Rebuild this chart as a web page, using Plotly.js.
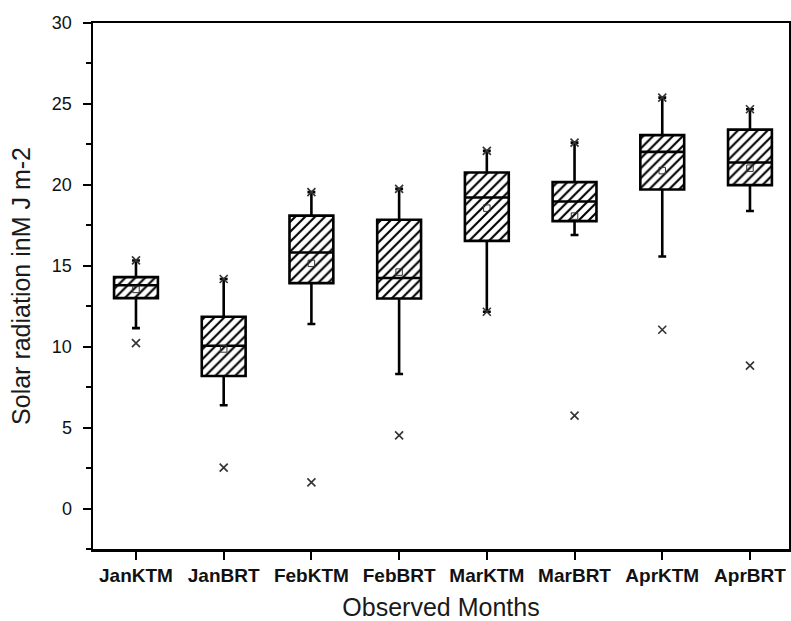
<!DOCTYPE html>
<html>
<head>
<meta charset="utf-8">
<script src="https://cdn.plot.ly/plotly-3.0.1.min.js"></script>
<style>html,body{margin:0;padding:0;background:#fff;}#chart{width:791px;height:621px;}</style>
</head>
<body>
<div id="chart"></div>
<script>
var categories = ["JanKTM","JanBRT","FebKTM","FebBRT","MarKTM","MarBRT","AprKTM","AprBRT"];
var q1Vals      = [13.0, 8.19, 13.93, 12.98, 16.54, 17.76, 19.71, 19.98];
var medianVals  = [13.8, 10.06, 15.82, 14.24, 19.22, 18.97, 22.04, 21.38];
var q3Vals      = [14.3, 11.85, 18.1, 17.84, 20.76, 20.17, 23.07, 23.41];
var lowWhisker  = [11.15, 6.38, 11.4, 8.31, 12.16, 16.9, 15.57, 18.38];
var highWhisker = [15.33, 14.18, 19.55, 19.75, 22.1, 22.61, 25.39, 24.67];
var meanVals    = [13.54, 9.86, 15.15, 14.61, 18.56, 18.07, 20.88, 21.03];
var minVals     = [10.22, 2.53, 1.62, 4.52, 12.16, 5.74, 11.05, 8.83];
var maxVals     = [15.33, 14.18, 19.55, 19.75, 22.1, 22.61, 25.39, 24.67];
var yTicks      = [0, 5, 10, 15, 20, 25, 30];

var boxHeights = q3Vals.map(function(v, i){ return v - q1Vals[i]; });

var hatch = {
  type: "bar", x: categories, y: boxHeights, base: q1Vals, width: 0.5,
  marker: {color: "#ffffff", line: {width: 0},
           pattern: {shape: "/", fgcolor: "#000000", bgcolor: "#ffffff", size: 7, solidity: 0.3}},
  hoverinfo: "skip", showlegend: false
};
var boxes = {
  type: "box", x: categories, q1: q1Vals, median: medianVals, q3: q3Vals,
  lowerfence: lowWhisker, upperfence: highWhisker,
  width: 0.5, whiskerwidth: 0.18, boxpoints: false,
  fillcolor: "rgba(0,0,0,0)", line: {color: "#000000", width: 2.6},
  showlegend: false
};
var means = {
  type: "scatter", mode: "markers", x: categories, y: meanVals,
  marker: {symbol: "square-open", size: 6.5, color: "#333333", line: {width: 1}},
  showlegend: false
};
var mins = {
  type: "scatter", mode: "markers", x: categories, y: minVals,
  marker: {symbol: "x-thin-open", size: 8, color: "#333333", line: {width: 1.6, color: "#333333"}},
  showlegend: false
};
var maxs = {
  type: "scatter", mode: "markers", x: categories, y: maxVals,
  marker: {symbol: "x-thin-open", size: 8, color: "#333333", line: {width: 1.6, color: "#333333"}},
  showlegend: false
};

var layout = {
  width: 791, height: 621,
  margin: {l: 93, r: 2, t: 23, b: 72},
  paper_bgcolor: "#ffffff", plot_bgcolor: "#ffffff",
  font: {family: "Liberation Sans, Arial, sans-serif", color: "#000000"},
  barmode: "overlay",
  showlegend: false,
  xaxis: {
    type: "category", range: [-0.49, 7.445],
    showline: true, linecolor: "#000000", linewidth: 2.5, mirror: true,
    ticks: "outside", ticklen: 8, tickwidth: 2, tickcolor: "#000000",
    showgrid: false, zeroline: false,
    tickfont: {size: 19, family: "Liberation Sans, Arial, sans-serif", weight: "bold", color: "#111111"},
    title: {text: "Observed Months", font: {size: 25, color: "#1a1a1a"}, standoff: 15}
  },
  yaxis: {
    range: [-2.5, 30], tickvals: yTicks, ticktext: yTicks.map(String),
    showline: true, linecolor: "#000000", linewidth: 2.5, mirror: true,
    ticks: "outside", ticklen: 8, tickwidth: 2, tickcolor: "#000000",
    ticklabelstandoff: 7,
    minor: {dtick: 2.5, tick0: 0, ticks: "outside", ticklen: 5, tickwidth: 2, tickcolor: "#000000", showgrid: false},
    showgrid: false, zeroline: false,
    tickfont: {size: 18, color: "#111111"},
    title: {text: "Solar radiation inM J m-2", font: {size: 25, color: "#1a1a1a"}, standoff: 14}
  }
};

Plotly.newPlot("chart", [hatch, boxes, means, mins, maxs], layout, {displayModeBar: false, staticPlot: true});
</script>
</body>
</html>
